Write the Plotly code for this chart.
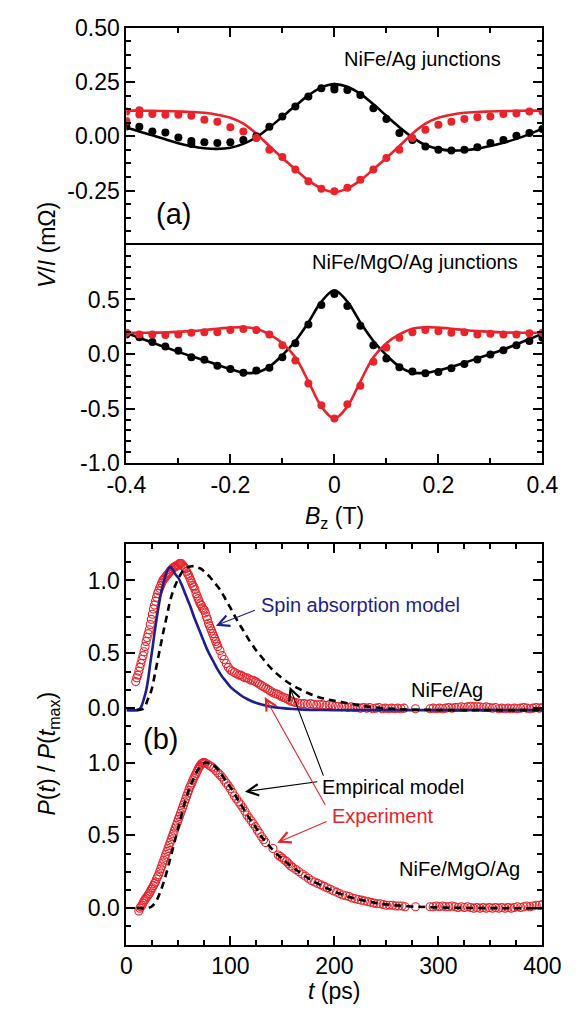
import plotly.graph_objects as go

W, H = 581, 1018
FONT = "Liberation Sans, Arial, sans-serif"
RED = "#E8232B"
BLUE = "#1E1E8C"
BLACK = "#000000"

# ---------------- panel (a) data ----------------
BZ = [-0.400, -0.375, -0.350, -0.325, -0.300, -0.275, -0.250, -0.225, -0.200, -0.175,
      -0.150, -0.125, -0.100, -0.075, -0.050, -0.025, 0.000, 0.025, 0.050, 0.075,
      0.100, 0.125, 0.150, 0.175, 0.200, 0.225, 0.250, 0.275, 0.300, 0.325,
      0.350, 0.375, 0.400]

# NiFe/Ag junctions
A1_BLACK_DOTS = [0.045, 0.044, 0.022, 0.017, -0.006, -0.022, -0.028, -0.031, -0.028, -0.017,
                 0.000, 0.044, 0.091, 0.137, 0.183, 0.221, 0.228, 0.213, 0.190, 0.129,
                 0.079, 0.015, -0.017, -0.047, -0.062, -0.065, -0.062, -0.050, -0.031, -0.017,
                 0.002, 0.015, 0.033]
A1_RED_DOTS = [0.114, 0.120, 0.103, 0.099, 0.099, 0.094, 0.076, 0.067, 0.042, 0.022,
               -0.008, -0.062, -0.095, -0.153, -0.207, -0.242, -0.253, -0.237, -0.200, -0.153,
               -0.100, -0.062, -0.008, 0.030, 0.053, 0.067, 0.079, 0.088, 0.091, 0.103,
               0.105, 0.114, 0.114]
A1_EXTRA_BZ = [-0.400, -0.275, 0.000]
A1_EXTRA_BLACK = [0.062, -0.035, 0.215]
A1_EXTRA_RED_BZ = [-0.400, -0.375]
A1_EXTRA_RED = [0.070, 0.100]
A1_BLACK_FIT = [0.040, 0.022, 0.005, -0.014, -0.032, -0.046, -0.055, -0.058, -0.053, -0.035,
                -0.005, 0.040, 0.090, 0.140, 0.188, 0.225, 0.240, 0.228, 0.195, 0.147,
                0.094, 0.042, -0.005, -0.040, -0.058, -0.066, -0.064, -0.057, -0.045, -0.030,
                -0.012, 0.010, 0.035]
A1_RED_FIT = [0.118, 0.118, 0.117, 0.116, 0.114, 0.112, 0.108, 0.099, 0.085, 0.058,
              0.012, -0.045, -0.100, -0.152, -0.203, -0.240, -0.258, -0.240, -0.203, -0.152,
              -0.100, -0.045, 0.012, 0.058, 0.085, 0.099, 0.108, 0.112, 0.114, 0.116,
              0.117, 0.118, 0.118]

# NiFe/MgO/Ag junctions
A2_BLACK_DOTS = [0.180, 0.155, 0.110, 0.070, 0.030, -0.030, -0.053, -0.106, -0.137, -0.171,
                 -0.150, -0.125, -0.030, 0.100, 0.270, 0.450, 0.550, 0.440, 0.260, 0.080,
                 -0.040, -0.120, -0.160, -0.175, -0.165, -0.130, -0.090, -0.050, -0.005, 0.035,
                 0.080, 0.120, 0.150]
A2_RED_DOTS = [0.195, 0.180, 0.180, 0.175, 0.180, 0.195, 0.200, 0.200, 0.220, 0.230,
               0.220, 0.180, 0.080, -0.060, -0.270, -0.470, -0.590, -0.460, -0.290, -0.070,
               0.060, 0.150, 0.200, 0.220, 0.210, 0.195, 0.200, 0.180, 0.185, 0.180,
               0.180, 0.190, 0.195]
A2_BLACK_FIT = [0.190, 0.150, 0.105, 0.062, 0.020, -0.020, -0.058, -0.098, -0.138, -0.170,
                -0.170, -0.115, -0.010, 0.120, 0.290, 0.480, 0.585, 0.480, 0.290, 0.120,
                -0.010, -0.115, -0.170, -0.172, -0.150, -0.118, -0.080, -0.040, 0.000, 0.042,
                0.088, 0.138, 0.185]
A2_RED_FIT = [0.195, 0.195, 0.196, 0.198, 0.203, 0.210, 0.220, 0.232, 0.242, 0.246,
              0.232, 0.180, 0.100, -0.030, -0.250, -0.480, -0.590, -0.480, -0.250, -0.030,
              0.100, 0.180, 0.232, 0.246, 0.242, 0.232, 0.220, 0.210, 0.203, 0.198,
              0.196, 0.195, 0.195]

# ---------------- panel (b) data : (t [ps], P/Pmax) ----------------
UPPER_SPIN_MODEL = [(0, 0.0), (10, 0.0), (13, 0.01), (15, 0.04), (17, 0.09), (19, 0.15), (21, 0.24),
                    (23, 0.36), (25, 0.47), (27, 0.59), (29, 0.70), (31, 0.80), (33, 0.89), (35, 0.96),
                    (37, 1.02), (39, 1.07), (41, 1.10), (43, 1.10), (45, 1.08), (47, 1.05), (50, 1.02),
                    (53, 0.97), (56, 0.91), (59, 0.85), (62, 0.79), (65, 0.72), (68, 0.66), (71, 0.60),
                    (74, 0.54), (77, 0.48), (80, 0.43), (84, 0.37), (88, 0.31), (92, 0.26), (96, 0.22),
                    (100, 0.18), (105, 0.145), (110, 0.115), (115, 0.09), (120, 0.07), (125, 0.055),
                    (130, 0.043), (140, 0.025), (150, 0.015), (160, 0.008), (170, 0.004), (185, 0.001),
                    (200, 0.0), (250, 0.0), (300, 0.0), (350, 0.0), (400, 0.0)]
UPPER_EMPIRICAL = [(10, 0.0), (15, 0.005), (18, 0.03), (21, 0.09), (24, 0.15), (27, 0.26), (30, 0.38),
                   (33, 0.50), (36, 0.62), (39, 0.73), (42, 0.84), (45, 0.92), (48, 0.98), (51, 1.03),
                   (54, 1.07), (57, 1.09), (60, 1.105), (63, 1.11), (66, 1.11), (69, 1.10), (72, 1.09),
                   (76, 1.06), (80, 1.03), (85, 0.98), (90, 0.93), (95, 0.86), (100, 0.79), (106, 0.70),
                   (112, 0.62), (118, 0.54), (124, 0.47), (130, 0.41), (136, 0.35), (142, 0.30),
                   (150, 0.245), (158, 0.20), (166, 0.165), (175, 0.13), (185, 0.10), (195, 0.08),
                   (205, 0.065), (215, 0.05), (225, 0.035), (240, 0.02), (255, 0.01), (270, 0.005),
                   (290, 0.002), (320, 0.0), (360, 0.0), (400, 0.0)]
UPPER_EXPERIMENT = [
    (9, 0.22), (10, 0.25), (11, 0.27), (12, 0.30), (13, 0.33), (14, 0.36), (15, 0.39), (16, 0.42),
    (17, 0.45), (18, 0.49), (19, 0.53), (20, 0.56), (21, 0.59), (22, 0.62), (23, 0.66), (24, 0.70),
    (25, 0.74), (26, 0.78), (27, 0.81), (28, 0.84), (29, 0.87), (30, 0.90), (31, 0.92), (32, 0.94),
    (33, 0.96), (34, 0.98), (35, 1.00), (36, 1.01), (37, 1.02), (38, 1.03), (39, 1.04), (40, 1.05),
    (41, 1.06), (42, 1.07), (43, 1.08), (44, 1.09), (45, 1.10), (46, 1.10), (47, 1.11), (48, 1.11),
    (49, 1.12), (50, 1.12), (51, 1.13), (52, 1.13), (53, 1.13), (54, 1.12), (55, 1.11), (56, 1.10),
    (57, 1.09), (58, 1.07), (59, 1.05), (60, 1.04), (61, 1.02), (62, 1.00), (63, 0.98), (64, 0.96),
    (65, 0.95), (66, 0.93), (67, 0.90), (68, 0.88), (69, 0.86), (70, 0.84), (71, 0.82), (72, 0.81),
    (73, 0.79), (74, 0.78), (75, 0.77), (76, 0.75), (77, 0.72), (78, 0.70), (79, 0.67), (80, 0.65),
    (81, 0.63), (82, 0.61), (83, 0.59), (84, 0.57), (85, 0.55), (86, 0.53), (87, 0.51), (88, 0.49),
    (90, 0.46), (92, 0.42), (94, 0.39), (96, 0.36), (98, 0.33), (100, 0.31), (102, 0.30), (104, 0.29),
    (106, 0.28), (108, 0.27), (110, 0.27), (112, 0.26), (114, 0.25), (116, 0.25), (118, 0.24),
    (120, 0.23), (122, 0.23), (124, 0.22), (126, 0.21), (128, 0.20), (130, 0.19), (132, 0.18),
    (134, 0.17), (136, 0.16), (138, 0.15), (140, 0.14), (142, 0.13), (144, 0.125), (146, 0.12),
    (148, 0.11), (150, 0.10), (152, 0.095), (154, 0.09), (156, 0.08), (158, 0.07), (160, 0.065),
    (162, 0.06), (165, 0.055), (168, 0.05), (171, 0.05), (174, 0.045), (177, 0.05), (180, 0.045),
    (183, 0.04), (186, 0.045), (189, 0.04), (192, 0.035), (195, 0.04), (198, 0.035), (201, 0.03),
    (204, 0.03), (207, 0.025), (210, 0.03), (213, 0.02), (216, 0.025), (219, 0.02), (222, 0.02),
    (225, 0.015), (228, 0.02), (231, 0.015), (234, 0.02), (237, 0.01), (240, 0.015), (243, 0.02),
    (246, 0.01), (249, 0.015), (252, 0.01), (255, 0.015), (258, 0.01), (261, 0.015), (264, 0.01),
    (267, 0.015), (278, 0.01), (292, 0.01), (295, 0.015), (298, 0.01), (301, 0.015), (304, 0.01),
    (307, 0.015), (310, 0.02), (313, 0.015), (316, 0.02), (319, 0.02), (322, 0.025), (325, 0.02),
    (328, 0.025), (331, 0.03), (334, 0.025), (337, 0.03), (340, 0.025), (343, 0.02), (346, 0.025),
    (349, 0.02), (352, 0.015), (355, 0.02), (358, 0.01), (361, 0.015), (364, 0.01), (367, 0.015),
    (370, 0.01), (373, 0.015), (376, 0.01), (379, 0.015), (382, 0.02), (385, 0.015), (388, 0.01),
    (391, 0.015), (394, 0.02), (397, 0.015), (400, 0.02)]

LOWER_EMPIRICAL = [(10, 0.0), (15, 0.0), (20, 0.0), (24, 0.01), (28, 0.04), (32, 0.10), (36, 0.18),
                   (40, 0.28), (44, 0.39), (48, 0.50), (52, 0.61), (56, 0.72), (60, 0.81), (64, 0.88),
                   (68, 0.94), (72, 0.98), (76, 1.0), (80, 0.995), (85, 0.975), (90, 0.935), (95, 0.88),
                   (100, 0.83), (106, 0.76), (112, 0.69), (118, 0.62), (124, 0.56), (130, 0.49),
                   (136, 0.44), (142, 0.39), (150, 0.34), (158, 0.29), (166, 0.25), (175, 0.205),
                   (185, 0.165), (195, 0.13), (205, 0.10), (215, 0.075), (225, 0.058), (240, 0.036),
                   (255, 0.022), (270, 0.013), (290, 0.007), (320, 0.002), (360, 0.0), (400, 0.0)]
LOWER_EXPERIMENT = [
    (12, -0.02), (13, 0.0), (14, 0.01), (15, 0.02), (16, 0.035), (17, 0.05), (18, 0.06), (19, 0.07),
    (20, 0.08), (21, 0.09), (22, 0.10), (23, 0.115), (24, 0.13), (25, 0.14), (26, 0.155), (27, 0.17),
    (28, 0.18), (29, 0.20), (30, 0.215), (31, 0.23), (32, 0.25), (33, 0.27), (34, 0.29), (35, 0.31),
    (36, 0.33), (37, 0.35), (38, 0.37), (39, 0.39), (40, 0.41), (41, 0.43), (42, 0.45), (43, 0.47),
    (44, 0.49), (45, 0.51), (46, 0.53), (47, 0.55), (48, 0.57), (49, 0.59), (50, 0.61), (51, 0.63),
    (52, 0.65), (53, 0.67), (54, 0.69), (55, 0.71), (56, 0.73), (57, 0.75), (58, 0.77), (59, 0.79),
    (60, 0.81), (61, 0.83), (62, 0.845), (63, 0.86), (64, 0.88), (65, 0.895), (66, 0.91), (67, 0.925),
    (68, 0.94), (69, 0.955), (70, 0.97), (71, 0.98), (72, 0.99), (73, 0.995), (74, 1.0), (75, 1.0),
    (76, 0.995), (78, 0.99), (80, 0.98), (82, 0.97), (84, 0.96), (86, 0.945), (88, 0.93), (90, 0.915),
    (92, 0.90), (94, 0.88), (96, 0.86), (98, 0.84), (100, 0.82), (102, 0.795), (104, 0.77), (106, 0.75),
    (108, 0.73), (110, 0.71), (112, 0.69), (114, 0.665), (116, 0.64), (118, 0.62), (120, 0.60),
    (122, 0.58), (124, 0.56), (126, 0.535), (128, 0.515), (130, 0.49), (132, 0.47), (134, 0.45),
    (141, 0.41), (146, 0.365), (148, 0.355), (150, 0.345), (152, 0.33), (154, 0.32), (156, 0.305),
    (158, 0.29), (160, 0.28), (163, 0.265), (166, 0.25), (169, 0.235), (172, 0.22), (175, 0.205),
    (178, 0.19), (181, 0.18), (184, 0.17), (187, 0.16), (190, 0.15), (193, 0.14), (196, 0.13),
    (199, 0.12), (202, 0.11), (205, 0.10), (208, 0.09), (211, 0.085), (214, 0.08), (217, 0.07),
    (220, 0.065), (223, 0.06), (226, 0.055), (229, 0.05), (232, 0.045), (235, 0.04), (238, 0.035),
    (241, 0.03), (244, 0.03), (247, 0.025), (250, 0.02), (253, 0.02), (256, 0.02), (259, 0.015),
    (262, 0.015), (265, 0.015), (268, 0.01), (278, 0.01), (292, 0.01), (295, 0.01), (298, 0.015),
    (301, 0.01), (304, 0.015), (307, 0.01), (310, 0.01), (313, 0.015), (316, 0.01), (319, 0.005),
    (322, 0.01), (325, 0.005), (328, 0.01), (331, 0.005), (334, 0.0), (337, 0.005), (340, 0.0),
    (343, 0.005), (346, 0.0), (349, 0.005), (352, 0.0), (355, 0.005), (358, 0.0), (361, 0.005),
    (364, 0.0), (367, 0.005), (370, 0.0), (373, 0.005), (376, 0.01), (379, 0.005), (382, 0.01),
    (385, 0.015), (388, 0.01), (391, 0.015), (394, 0.02), (397, 0.02), (400, 0.025)]

# upper (NiFe/Ag) curves are drawn offset above the lower ones on the shared axis
UPPER_ZERO = 1.36
UPPER_SCALE = 0.89

B_TICKVALS = [0.0, 0.5, 1.0, 1.375, 1.75, 2.25]
B_TICKTEXT = ["0.0", "0.5", "1.0", "0.0", "0.5", "1.0"]

# ---------------- layout geometry (pixels) ----------------
X_L, X_R = 114, 560
A1_TOP, A1_BOT = 15, 238
A2_TOP, A2_BOT = 238, 462
B_TOP, B_BOT = 545, 956


def dom(top, bot):
    return [1 - bot / H, 1 - top / H]


def unzip(pairs):
    return [p[0] for p in pairs], [p[1] for p in pairs]


def upper(vals):
    return [UPPER_ZERO + UPPER_SCALE * v for v in vals]


fig = go.Figure()

LW = 2.6
MS = 8

# panel a1
fig.add_trace(go.Scatter(x=BZ, y=A1_BLACK_FIT, mode="lines", line=dict(color=BLACK, width=LW, shape="spline"),
                         xaxis="x", yaxis="y"))
fig.add_trace(go.Scatter(x=BZ, y=A1_RED_FIT, mode="lines", line=dict(color=RED, width=LW, shape="spline"),
                         xaxis="x", yaxis="y"))
fig.add_trace(go.Scatter(x=BZ + A1_EXTRA_BZ, y=A1_BLACK_DOTS + A1_EXTRA_BLACK, mode="markers",
                         marker=dict(color=BLACK, size=MS), xaxis="x", yaxis="y"))
fig.add_trace(go.Scatter(x=BZ + A1_EXTRA_RED_BZ, y=A1_RED_DOTS + A1_EXTRA_RED, mode="markers",
                         marker=dict(color=RED, size=MS), xaxis="x", yaxis="y"))

# panel a2
fig.add_trace(go.Scatter(x=BZ, y=A2_BLACK_FIT, mode="lines", line=dict(color=BLACK, width=LW, shape="spline"),
                         xaxis="x2", yaxis="y2"))
fig.add_trace(go.Scatter(x=BZ, y=A2_RED_FIT, mode="lines", line=dict(color=RED, width=LW, shape="spline"),
                         xaxis="x2", yaxis="y2"))
fig.add_trace(go.Scatter(x=BZ, y=A2_BLACK_DOTS, mode="markers", marker=dict(color=BLACK, size=MS),
                         xaxis="x2", yaxis="y2"))
fig.add_trace(go.Scatter(x=BZ, y=A2_RED_DOTS, mode="markers", marker=dict(color=RED, size=MS),
                         xaxis="x2", yaxis="y2"))

# panel b
circ = dict(symbol="circle-open", color=RED, size=8, line=dict(width=1.1, color=RED))
t, v = unzip(UPPER_EXPERIMENT)
fig.add_trace(go.Scatter(x=t, y=upper(v), mode="markers", marker=circ, xaxis="x3", yaxis="y3"))
t, v = unzip(LOWER_EXPERIMENT)
fig.add_trace(go.Scatter(x=t, y=v, mode="markers", marker=circ, xaxis="x3", yaxis="y3"))
t, v = unzip(UPPER_SPIN_MODEL)
fig.add_trace(go.Scatter(x=t, y=upper(v), mode="lines", line=dict(color=BLUE, width=LW, shape="spline"),
                         xaxis="x3", yaxis="y3"))
t, v = unzip(UPPER_EMPIRICAL)
fig.add_trace(go.Scatter(x=t, y=upper(v), mode="lines",
                         line=dict(color=BLACK, width=LW, dash="7px,5px", shape="spline"),
                         xaxis="x3", yaxis="y3"))
t, v = unzip(LOWER_EMPIRICAL)
fig.add_trace(go.Scatter(x=t, y=v, mode="lines",
                         line=dict(color=BLACK, width=LW, dash="7px,5px", shape="spline"),
                         xaxis="x3", yaxis="y3"))

tickfont = dict(family=FONT, size=23, color=BLACK)
base = dict(showline=True, linecolor=BLACK, linewidth=2, ticks="inside", tickcolor=BLACK, tickwidth=2,
            ticklen=9, showgrid=False, zeroline=False, tickfont=tickfont, tickmode="array",
            ticklabeloverflow="allow")
minor_style = dict(ticks="inside", ticklen=5, tickwidth=1.6, tickcolor=BLACK, showgrid=False)
xdom = [X_L / W, X_R / W]

fig.update_layout(
    width=W, height=H, autosize=False, showlegend=False,
    margin=dict(l=0, r=0, t=0, b=0, pad=0),
    paper_bgcolor="white", plot_bgcolor="white",
    font=dict(family=FONT, color=BLACK),
    xaxis=dict(base, domain=xdom, anchor="y", side="top", range=[-0.4, 0.4],
               tickvals=[-0.4, -0.2, 0, 0.2, 0.4], showticklabels=False, mirror=False,
               minor=dict(minor_style, dtick=0.1, tick0=0)),
    yaxis=dict(base, domain=dom(A1_TOP, A1_BOT), anchor="x", range=[-0.5, 0.5],
               tickvals=[-0.25, 0, 0.25, 0.5], ticktext=["-0.25", "0.00", "0.25", "0.50"],
               mirror="ticks", minor=dict(minor_style, dtick=0.0625, tick0=0)),
    xaxis2=dict(base, domain=xdom, anchor="y2", range=[-0.4, 0.4],
                tickvals=[-0.4, -0.2, 0, 0.2, 0.4], ticktext=["-0.4", "-0.2", "0", "0.2", "0.4"],
                mirror=True, minor=dict(minor_style, dtick=0.1, tick0=0)),
    yaxis2=dict(base, domain=dom(A2_TOP, A2_BOT), anchor="x2", range=[-1, 1],
                tickvals=[-1, -0.5, 0, 0.5], ticktext=["-1.0", "-0.5", "0.0", "0.5"],
                mirror="ticks", minor=dict(minor_style, dtick=0.1, tick0=0)),
    xaxis3=dict(base, domain=xdom, anchor="y3", range=[0, 400],
                tickvals=[0, 100, 200, 300, 400], ticktext=["0", "100", "200", "300", "400"],
                mirror="ticks", minor=dict(minor_style, dtick=25, tick0=0)),
    yaxis3=dict(base, domain=dom(B_TOP, B_BOT), anchor="x3", range=[-0.25, 2.5],
                tickvals=B_TICKVALS, ticktext=B_TICKTEXT,
                mirror="ticks", minor=dict(minor_style, dtick=0.125, tick0=0)),
)

ann = []


def paper_text(text, px, py, size=23, angle=0):
    ann.append(dict(text=text, x=px / W, y=1 - py / H, xref="paper", yref="paper", showarrow=False,
                    textangle=angle, xanchor="center", yanchor="middle",
                    font=dict(family=FONT, size=size, color=BLACK)))


paper_text("<i>V</i>/<i>I</i> (mΩ)", 29, 238, angle=-90)
paper_text("<i>B</i><sub>z</sub> (T)", (X_L + X_R) / 2, 518)
paper_text("<i>P</i>(<i>t</i>) / <i>P</i>(<i>t</i><sub>max</sub>)", 31, 760, angle=-90)
paper_text("<i>t</i> (ps)", (X_L + X_R) / 2, 1004)


def data_text(text, x, y, xr, yr, size=20, color=BLACK, xanchor="center"):
    ann.append(dict(text=text, x=x, y=y, xref=xr, yref=yr, showarrow=False, xanchor=xanchor,
                    yanchor="middle", font=dict(family=FONT, size=size, color=color)))


data_text("NiFe/Ag junctions", 0.17, 0.357, "x", "y")
data_text("(a)", -0.31, -0.36, "x", "y", size=29)
data_text("NiFe/MgO/Ag junctions", 0.155, 0.84, "x2", "y2")

data_text("Spin absorption model", 128, 2.08, "x3", "y3", color=BLUE, xanchor="left")
data_text("NiFe/Ag", 308, 1.50, "x3", "y3")
data_text("(b)", 33, 1.165, "x3", "y3", size=29)
data_text("Empirical model", 256, 0.83, "x3", "y3")
data_text("Experiment", 247, 0.63, "x3", "y3", color=RED)
data_text("NiFe/MgO/Ag", 320, 0.27, "x3", "y3")


def arrow(hx, hy, tx, ty, color):
    ann.append(dict(text="", x=hx, y=hy, ax=tx, ay=ty, xref="x3", yref="y3", axref="x3", ayref="y3",
                    showarrow=True, arrowhead=5, arrowsize=2.0, arrowwidth=1.1, arrowcolor=color))


arrow(86, 1.94, 125, 2.05, BLUE)
arrow(157, 1.52, 190, 0.90, BLACK)
arrow(114, 0.80, 185, 0.87, BLACK)
arrow(133, 1.45, 192, 0.70, RED)
arrow(145, 0.45, 194, 0.60, RED)

fig.update_layout(annotations=ann)

fig.write_html("out.html", config={"displayModeBar": False},
               post_script=["document.body.style.margin='0px';"])
